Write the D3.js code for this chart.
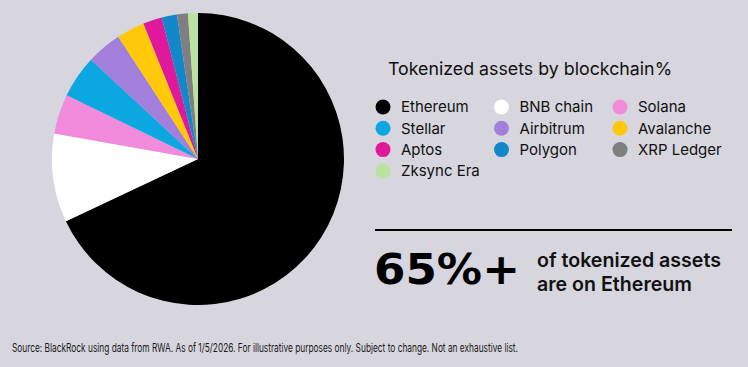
<!DOCTYPE html>
<html>
<head>
<meta charset="utf-8">
<script src="https://cdn.jsdelivr.net/npm/d3@7"></script>
<style>
  html, body { margin: 0; padding: 0; background: #d7d6de; }
  svg { display: block; }
  text { font-family: Inter, Roboto, "Noto Sans", sans-serif; fill: #111; }
</style>
</head>
<body>
<svg width="748" height="367"></svg>
<script>
// chain names, share of tokenized assets (%), slice colours
var chains = ['Ethereum', 'BNB chain', 'Solana', 'Stellar', 'Airbitrum', 'Avalanche', 'Aptos', 'Polygon', 'XRP Ledger', 'Zksync Era'];
var shares = [68.0, 9.8, 4.4, 4.7, 3.9, 3.1, 2.1, 1.7, 1.2, 1.1];
var colors = ['#000000', '#ffffff', '#f28bdc', '#0ba7e1', '#a27fda', '#ffc909', '#e0199c', '#1388c9', '#7f7f82', '#b9e3a0'];

var svg = d3.select('svg'),
  width = +svg.attr('width'),
  height = +svg.attr('height');

var data = chains.map(function(c, i) { return { name: c, value: shares[i], color: colors[i] }; });

/* ---
PIE
--- */
var radius = 146;
var pie = d3.pie().sort(null).value(function(d) { return d.value; });
var arc = d3.arc().innerRadius(0).outerRadius(radius);

svg.append('g')
  .attr('transform', 'translate(198,159)')
  .selectAll('path')
  .data(pie(data))
  .enter()
  .append('path')
  .attr('d', arc)
  .attr('fill', function(d) { return d.data.color; });

/* ---
LEGEND
--- */
svg.append('text')
  .attr('x', 388)
  .attr('y', 75)
  .style('font-size', '17.8px')
  .text('Tokenized assets by blockchain%');

var legend = svg.append('g').attr('transform', 'translate(383,107)');
var colX = d3.scalePoint().domain([0, 1, 2]).range([0, 237]);

var item = legend.selectAll('.item')
  .data(data)
  .enter()
  .append('g')
  .attr('class', 'item')
  .attr('transform', function(d, i) {
    return 'translate(' + colX(i % 3) + ',' + (Math.floor(i / 3) * 21.3) + ')';
  });

item.append('circle')
  .attr('r', 7.5)
  .attr('fill', function(d) { return d.color; });

item.append('text')
  .attr('x', 18)
  .attr('dy', '0.36em')
  .style('font-size', '15px')
  .text(function(d) { return d.name; });

/* ---
CALLOUT
--- */
svg.append('line')
  .attr('x1', 375).attr('x2', 732)
  .attr('y1', 230).attr('y2', 230)
  .attr('stroke', '#000')
  .attr('stroke-width', 2);

svg.append('text')
  .attr('x', 374)
  .attr('y', 284)
  .attr('textLength', 146)
  .attr('lengthAdjust', 'spacingAndGlyphs')
  .style('font-family', '"DejaVu Sans", sans-serif')
  .style('font-size', '43px')
  .style('font-weight', 700)
  .style('fill', '#000')
  .text('65%+');

var callout = svg.append('text')
  .attr('x', 537)
  .style('font-size', '19.6px')
  .style('font-weight', 600);
callout.append('tspan').attr('x', 537).attr('y', 267).text('of tokenized assets');
callout.append('tspan').attr('x', 537).attr('y', 291).text('are on Ethereum');

/* ---
SOURCE
--- */
svg.append('text')
  .attr('x', 12)
  .attr('y', 352)
  .attr('textLength', 506)
  .attr('lengthAdjust', 'spacingAndGlyphs')
  .style('font-size', '11.5px')
  .style('fill', '#1a1a1a')
  .text('Source: BlackRock using data from RWA. As of 1/5/2026. For illustrative purposes only. Subject to change. Not an exhaustive list.');
</script>
</body>
</html>
